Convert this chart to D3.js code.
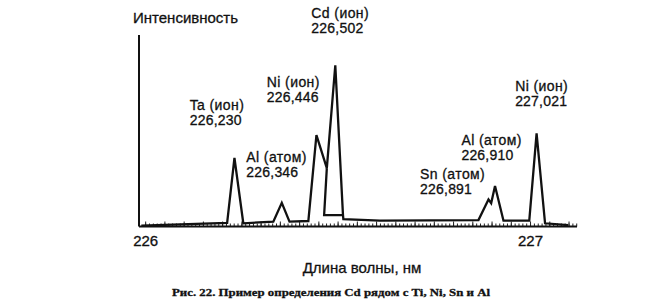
<!DOCTYPE html>
<html>
<head>
<meta charset="utf-8">
<script src="https://cdn.jsdelivr.net/npm/d3@7"></script>
<style>
  body { margin: 0; background: #fff; }
  svg { display: block; }
  text { font-family: "Liberation Sans", Arial, sans-serif; fill: #111; stroke: #111; stroke-width: 0.3px; }
</style>
</head>
<body>
<svg id="chart" width="661" height="306"></svg>
<script>
// Emission spectrum near Cd 226.502 nm with neighbouring lines
// values (intensity in arbitrary units, Cd peak = 100)

const wavelength = [225.990, 226.213, 226.232, 226.255, 226.333, 226.355, 226.375, 226.424,
  226.445, 226.472, 226.494, 226.514, 226.515, 226.610, 226.866, 226.892, 226.899,
  226.909, 226.931, 226.998, 227.017, 227.039, 227.099];
const intensity = [0.6, 2.2, 42.6, 2.0, 3.0, 14.7, 3.0, 3.4,
  56.7, 36.2, 100, 7.1, 4.5, 3.7, 4.0, 16.8, 14.4,
  25.1, 3.6, 3.6, 57.7, 2.0, 0.9];

// tail of the Ni line hidden under the Cd peak
const tailWavelength = [226.472, 226.465, 226.514];
const tailIntensity = [36.2, 7.1, 7.1];

const peakNames = ["Ta (ион)", "Al (атом)", "Ni (ион)", "Cd (ион)", "Sn (атом)", "Al (атом)", "Ni (ион)"];
const peakLabels = ["226,230", "226,346", "226,446", "226,502", "226,891", "226,910", "227,021"];
const peakLambda = [226.230, 226.346, 226.446, 226.502, 226.891, 226.910, 227.021];
const labelLevel = [63, 31, 77, 120, 20, 41, 75];   // height of label baseline, same units as intensity

const tickLabels = [226, 227];

const svg = d3.select("#chart");
const width = 661, height = 306;

const x = d3.scaleLinear()
  .domain([225.984, 227.122])
  .range([139, 577]);

const y = d3.scaleLinear()
  .domain([0, 120])
  .range([226.5, 33]);

const line = d3.line()
  .x(d => x(d[0]))
  .y(d => y(d[1]));

// Y axis (no ticks)
svg.append("line")
  .attr("x1", 139).attr("x2", 139)
  .attr("y1", y(0)).attr("y2", 35)
  .attr("stroke", "#111")
  .attr("stroke-width", 2);

svg.append("text")
  .attr("x", 133)
  .attr("y", 23)
  .style("font-size", "15px")
  .text("Интенсивность");

// X axis: minor ticks every 0.01 nm, longer every 0.05 nm, pointing up
const minorTicks = d3.range(0, 114).map(i => 226 + i * 0.01).filter(v => v <= 227.12);
const majorTicks = d3.range(0, 23).map(i => 226 + i * 0.05).filter(v => v <= 227.12);

svg.append("g")
  .attr("transform", `translate(0,${y(0)})`)
  .call(d3.axisBottom(x).tickValues(minorTicks).tickSize(-3).tickFormat(""))
  .call(g => g.select(".domain").remove())
  .call(g => g.selectAll("line").attr("stroke", "#222").attr("stroke-width", 1));

svg.append("g")
  .attr("transform", `translate(0,${y(0)})`)
  .call(d3.axisBottom(x).tickValues(majorTicks).tickSize(-5).tickFormat(""))
  .call(g => g.select(".domain").remove())
  .call(g => g.selectAll("line").attr("stroke", "#222").attr("stroke-width", 1));

svg.append("line")
  .attr("x1", x.range()[0]).attr("x2", x.range()[1])
  .attr("y1", y(0)).attr("y2", y(0))
  .attr("stroke", "#111")
  .attr("stroke-width", 2);

svg.append("g")
  .attr("transform", `translate(0,${y(0)})`)
  .call(d3.axisBottom(x).tickValues(tickLabels).tickSize(0).tickPadding(9).tickFormat(d3.format("d")))
  .call(g => g.select(".domain").remove())
  .call(g => g.selectAll("text")
    .style("font-family", "Liberation Sans, Arial, sans-serif")
    .style("font-size", "15px")
    .attr("fill", "#111"));

svg.append("text")
  .attr("x", 362)
  .attr("y", 273)
  .attr("text-anchor", "middle")
  .style("font-size", "15px")
  .text("Длина волны, нм");

// spectrum
svg.append("path")
  .datum(wavelength.map((w, i) => [w, intensity[i]]))
  .attr("fill", "none")
  .attr("stroke", "#111")
  .attr("stroke-width", 2.3)
  .attr("stroke-linejoin", "miter")
  .attr("d", line);

svg.append("path")
  .datum(tailWavelength.map((w, i) => [w, tailIntensity[i]]))
  .attr("fill", "none")
  .attr("stroke", "#111")
  .attr("stroke-width", 2.3)
  .attr("d", line);

// peak labels (left-aligned, offset from the peak)
const labelDx = [-44, -32, -50, -27, -68, -34, -23];
const labels = svg.append("g");
peakNames.forEach((name, i) => {
  const lx = x(peakLambda[i]) + labelDx[i];
  const ly = y(labelLevel[i]);
  labels.append("text")
    .attr("x", lx)
    .attr("y", ly - 15)
    .style("font-size", "14px")
    .style("letter-spacing", "0.4px")
    .text(name);
  labels.append("text")
    .attr("x", lx)
    .attr("y", ly)
    .style("font-size", "14px")
    .style("letter-spacing", "0.2px")
    .text(peakLabels[i]);
});

// caption
svg.append("text")
  .attr("x", 331)
  .attr("y", 296)
  .attr("text-anchor", "middle")
  .attr("textLength", 318)
  .attr("lengthAdjust", "spacingAndGlyphs")
  .style("font-family", "Liberation Serif, Times New Roman, serif")
  .style("font-weight", "bold")
  .style("font-size", "11px")
  .text("Рис. 22. Пример определения Cd рядом с Ti, Ni, Sn и Al");
</script>
</body>
</html>
